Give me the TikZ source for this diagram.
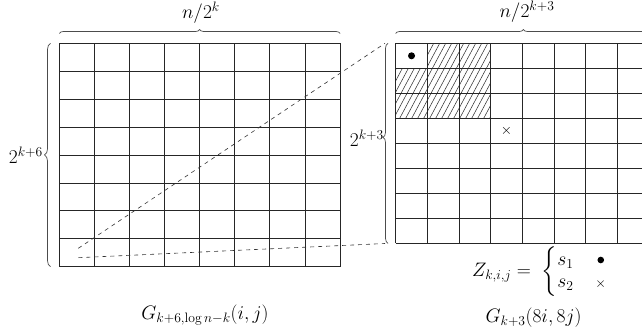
\RequirePackage{fix-cm}
\documentclass[tikz,border=0pt]{standalone}
\usepackage{amsmath}
\usetikzlibrary{decorations.pathreplacing}
\tikzset{
  gridline/.style={draw=black!85, line width=0.8pt},
  bracedeco/.style={draw=black!70, line width=0.7pt, decorate, decoration={brace, amplitude=#1}},
  linkline/.style={draw=black!80, line width=0.6pt, dash pattern=on 4pt off 4pt},
  hatchline/.style={draw=black!85, line width=0.5pt},
  lbl/.style={font=\fontsize{19.5}{22}\selectfont, inner sep=1pt},
}
\begin{document}
\begin{tikzpicture}[x=1pt,y=-1pt]
\clip (0,0) rectangle (642,329);
\fill[white] (0,0) rectangle (642,329);
% ---------- left grid ----------
\def\LX{59.3}\def\LY{43.3}\def\LC{35.09}\def\LR{27.92}
\coordinate (L-tl) at (\LX,\LY);
\coordinate (L-br) at (\LX+8*\LC,\LY+8*\LR);
\foreach \i in {0,...,8}{
  \draw[gridline] (\LX+\i*\LC,\LY) -- (\LX+\i*\LC,\LY+8*\LR);
  \draw[gridline] (\LX,\LY+\i*\LR) -- (\LX+8*\LC,\LY+\i*\LR);
}
% ---------- right grid ----------
\def\RX{395.7}\def\RY{43.3}\def\RC{31.67}\def\RR{25}
\coordinate (R-tl) at (\RX,\RY);
\coordinate (R-bl) at (\RX,\RY+8*\RR);
% hatching
\begin{scope}
  \clip (\RX+\RC,\RY) -- (\RX+3*\RC,\RY) -- (\RX+3*\RC,\RY+3*\RR) -- (\RX,\RY+3*\RR)
        -- (\RX,\RY+\RR) -- (\RX+\RC,\RY+\RR) -- cycle;
  \foreach \t in {-50,-44,...,110}{
    \draw[hatchline] (\RX+\t,\RY+3*\RR) -- (\RX+\t+40,\RY);
  }
\end{scope}
\foreach \i in {0,...,8}{
  \draw[gridline] (\RX+\i*\RC,\RY) -- (\RX+\i*\RC,\RY+8*\RR);
  \draw[gridline] (\RX,\RY+\i*\RR) -- (\RX+8*\RC,\RY+\i*\RR);
}
% marks
\node[circle, fill=black, inner sep=0pt, minimum size=7pt] (dotmark) at (\RX+0.5*\RC,\RY+0.5*\RR) {};
\node[inner sep=0pt, font=\fontsize{14.4}{16}\selectfont] (xmark) at (\RX+3.5*\RC,\RY+3.5*\RR) {$\times$};
% ---------- braces ----------
\draw[bracedeco=4pt] (\LX,33.5) -- (\LX+8*\LC,33.5);
\draw[bracedeco=6pt] (50.5,\LY+8*\LR) -- (50.5,\LY);
\draw[bracedeco=4pt] (\RX,33.5) -- (651,33.5);
\draw[bracedeco=5pt, decoration={aspect=0.53}] (388,\RY+8*\RR) -- (388,\RY);
% ---------- labels ----------
\node[lbl] (nleft) at (201,13) {$n/2^{k}$};
\node[lbl] (nright) at (527,12) {$n/2^{k+3}$};
\node[lbl, anchor=east] (hleft) at (44,155) {$2^{k+6}$};
\node[lbl, anchor=east] (hright) at (385,138) {$2^{k+3}$};
\node[lbl] (gleft) at (205,315) {$G_{k+6,\log n-k}(i,j)$};
\node[lbl] (gright) at (533.5,318) {$G_{k+3}(8i,8j)$};
\node[lbl, anchor=west] (zdef) at (471,272) {$Z_{k,i,j}=\;\left\{\begin{array}{@{}l@{\hspace{22pt}}c@{}} s_1 & \raisebox{0.25ex}{\tikz\fill (0,0) circle (3.3pt);}\\ s_2 & {\scriptstyle\times}\end{array}\right.$};
% ---------- zoom links ----------
\coordinate (zA) at (78.3,248.3);
\coordinate (zB) at (78.3,257.7);
\coordinate (linkTop) at (385,43.3);
\coordinate (linkBot) at (385,243.5);
\draw[linkline] (zA) -- (linkTop);
\draw[linkline] (zB) -- (linkBot);
\end{tikzpicture}
\end{document}
